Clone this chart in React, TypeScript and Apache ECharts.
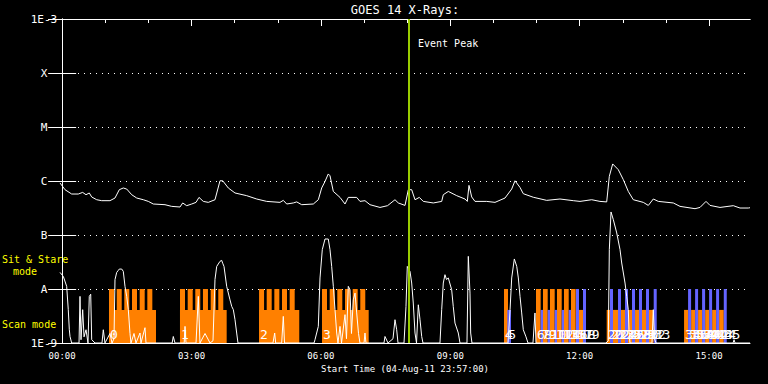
import React, { useEffect, useRef } from "react";
import * as echarts from "echarts";

const TITLE = "GOES 14 X-Rays:";
const X_NAME = "Start Time (04-Aug-11 23:57:00)";
const EVENT_LABEL = "Event Peak";
const T_MIN = -0.05;
const T_MAX = 15.95;
const HOUR_LABELS = [0, 3, 6, 9, 12, 15];
const HOUR_TICKS = [0, 1, 2, 3, 4, 5, 6, 7, 8, 9, 10, 11, 12, 13, 14, 15];
const FLUX_MIN = 1e-9;
const FLUX_MAX = 1e-3;
const CLASS_LABELS: Record<string, string> = {
  "-3": "1E-3", "-4": "X", "-5": "M", "-6": "C", "-7": "B", "-8": "A", "-9": "1E-9",
};
const EVENT_PEAK = 8.03;

// GOES 1-8 A flux: [hours since 00:00 UT, W/m^2]
const goesFlux: [number, number][] = [
  [-0.05, 9.2e-7], [0.066, 6.9e-7], [0.221, 5.74e-7], [0.374, 5.74e-7], [0.476, 6.15e-7],
  [0.553, 5.57e-7], [0.629, 6.0e-7], [0.685, 5.06e-7], [0.801, 4.5e-7], [0.917, 4.32e-7],
  [1.109, 4.32e-7], [1.225, 4.84e-7], [1.325, 6.9e-7], [1.418, 7.42e-7], [1.497, 7.1e-7],
  [1.613, 5.57e-7], [1.729, 4.84e-7], [1.882, 4.5e-7], [1.998, 4.19e-7], [2.113, 3.75e-7],
  [2.385, 3.64e-7], [2.54, 3.39e-7], [2.733, 3.3e-7], [2.795, 3.92e-7], [2.888, 3.49e-7],
  [3.004, 3.75e-7], [3.104, 4.02e-7], [3.173, 4.97e-7], [3.273, 4.19e-7], [3.389, 4.02e-7],
  [3.544, 4.5e-7], [3.66, 1.01e-6], [3.723, 1.01e-6], [3.853, 7.42e-7], [4.008, 6.0e-7],
  [4.279, 5.35e-7], [4.511, 4.64e-7], [4.743, 4.19e-7], [5.051, 4.02e-7], [5.128, 4.38e-7],
  [5.207, 3.75e-7], [5.36, 3.92e-7], [5.439, 4.1e-7], [5.555, 3.64e-7], [5.824, 3.75e-7],
  [5.94, 4.5e-7], [6.018, 7.42e-7], [6.095, 9.8e-7], [6.171, 1.35e-6], [6.211, 1.25e-6],
  [6.288, 6.41e-7], [6.443, 4.97e-7], [6.559, 3.75e-7], [6.635, 4.97e-7], [6.83, 4.97e-7],
  [6.906, 4.19e-7], [7.022, 4.32e-7], [7.138, 3.64e-7], [7.37, 3.24e-7], [7.545, 3.49e-7],
  [7.718, 4.5e-7], [7.795, 3.92e-7], [7.95, 3.53e-7], [8.027, 6.9e-7], [8.105, 6.9e-7],
  [8.182, 4.5e-7], [8.282, 4.97e-7], [8.374, 4.19e-7], [8.606, 3.92e-7], [8.801, 4.19e-7],
  [8.838, 5.57e-7], [8.954, 6.41e-7], [9.149, 5.35e-7], [9.341, 4.64e-7], [9.395, 4.19e-7],
  [9.434, 8.3e-7], [9.497, 5.06e-7], [9.573, 4.19e-7], [9.845, 4.19e-7], [10.037, 4.02e-7],
  [10.269, 4.84e-7], [10.424, 7.1e-7], [10.501, 1.01e-6], [10.617, 7.6e-7], [10.693, 5.82e-7],
  [10.925, 5.0e-7], [11.236, 4.38e-7], [11.544, 4.64e-7], [11.853, 4.32e-7], [12.008, 4.19e-7],
  [12.279, 4.5e-7], [12.471, 4.19e-7], [12.627, 4.1e-7], [12.688, 1.22e-6], [12.766, 2.07e-6],
  [12.896, 1.62e-6], [13.012, 1.06e-6], [13.128, 6.41e-7], [13.244, 4.5e-7], [13.476, 4.02e-7],
  [13.592, 3.53e-7], [13.708, 4.64e-7], [13.824, 4.19e-7], [14.172, 3.92e-7], [14.327, 3.39e-7],
  [14.675, 3.07e-7], [14.791, 3.24e-7], [14.93, 4.19e-7], [15.023, 3.53e-7], [15.255, 3.24e-7],
  [15.563, 3.49e-7], [15.718, 3.16e-7], [15.91, 3.16e-7], [15.95, 3.2e-7],
];

// Secondary light curve (plotted on the same log axis, floor at 1E-9)
const lowerCurve: [number, number][] = [
  [-0.05, 2.03e-8], [0.027, 1.71e-8], [0.105, 1.12e-8], [0.142, 4.14e-9], [0.166, 1.76e-9],
  [0.182, 1.32e-9], [0.221, 1e-9], [0.391, 1e-9], [0.414, 7.3e-9], [0.437, 1.15e-9],
  [0.476, 4.14e-9], [0.507, 1.3e-9], [0.553, 1.76e-9], [0.599, 1e-9], [0.629, 7.3e-9],
  [0.662, 8e-9], [0.685, 1.15e-9], [0.762, 1e-9], [0.924, 1e-9], [0.954, 1.76e-9],
  [0.993, 1e-9], [1.109, 1.5e-9], [1.156, 1e-9], [1.202, 1.2e-9], [1.225, 1.49e-8],
  [1.265, 2.03e-8], [1.302, 2.21e-8], [1.325, 2.34e-8], [1.381, 2.34e-8], [1.418, 2.12e-8],
  [1.457, 1.12e-8], [1.497, 7.3e-9], [1.534, 4.14e-9], [1.573, 1.5e-9], [1.596, 1e-9],
  [1.666, 1.5e-9], [1.712, 1e-9], [1.805, 1.53e-9], [1.828, 1e-9], [1.921, 1.92e-9],
  [1.944, 1e-9], [2.55, 1e-9], [2.577, 1.32e-9], [2.617, 1e-9], [2.83, 1e-9],
  [2.849, 2.03e-9], [2.872, 1e-9], [3.104, 1e-9], [3.157, 7.3e-9], [3.196, 1e-9],
  [3.313, 1.5e-9], [3.429, 1e-9], [3.498, 1.1e-9], [3.544, 1.5e-8], [3.584, 2.62e-8],
  [3.66, 3.25e-8], [3.699, 3.39e-8], [3.723, 3.0e-8], [3.753, 2.62e-8], [3.815, 1.12e-8],
  [3.892, 6.3e-9], [3.932, 4.76e-9], [3.969, 4.14e-9], [4.008, 2.7e-9], [4.047, 1.53e-9],
  [4.077, 1e-9], [4.889, 1e-9], [4.928, 1.53e-9], [4.951, 1e-9], [5.09, 1e-9],
  [5.128, 3.11e-9], [5.156, 1e-9], [5.84, 1e-9], [5.863, 1.15e-9], [5.94, 2.03e-9],
  [5.979, 1.6e-8], [6.032, 5.35e-8], [6.095, 8.43e-8], [6.171, 8.43e-8], [6.211, 5.35e-8],
  [6.25, 2.6e-8], [6.288, 1.12e-8], [6.327, 4.14e-9], [6.366, 1.53e-9], [6.396, 1e-9],
  [6.443, 2.03e-9], [6.478, 1e-9], [6.559, 3.35e-9], [6.593, 1.2e-9], [6.635, 1.12e-8],
  [6.675, 9.7e-9], [6.709, 1.5e-9], [6.751, 6.3e-9], [6.791, 8.4e-9], [6.83, 3.6e-9],
  [6.872, 1.5e-9], [6.906, 1e-9], [7.0, 1e-9], [7.022, 1.53e-9], [7.045, 1e-9],
  [7.463, 1e-9], [7.486, 1.32e-9], [7.556, 1e-9], [7.672, 1.2e-9], [7.718, 2.7e-9],
  [7.757, 1.76e-9], [7.788, 1e-9], [7.927, 1e-9], [7.973, 4.76e-9], [8.003, 2.62e-8],
  [8.066, 2.12e-8], [8.105, 1.29e-8], [8.142, 5.5e-9], [8.182, 1.53e-9], [8.217, 1e-9],
  [8.259, 5.1e-9], [8.298, 2.7e-9], [8.337, 1.32e-9], [8.367, 1e-9], [8.761, 1e-9],
  [8.801, 4.14e-9], [8.838, 1.29e-8], [8.877, 1.84e-8], [8.912, 1.5e-8], [8.954, 1.6e-8],
  [9.032, 9.7e-9], [9.069, 4.76e-9], [9.109, 2.34e-9], [9.186, 1.53e-9], [9.225, 1e-9],
  [9.387, 1e-9], [9.418, 4.02e-8], [9.457, 8.4e-9], [9.473, 1.53e-9], [9.503, 1e-9],
  [10.339, 1e-9], [10.386, 4.14e-9], [10.424, 1.6e-8], [10.485, 3.6e-8], [10.541, 2.62e-8],
  [10.578, 1.6e-8], [10.617, 7.3e-9], [10.656, 3.6e-9], [10.693, 1.76e-9], [10.756, 1.3e-9],
  [10.802, 1e-9], [10.918, 1e-9], [10.964, 3.6e-9], [10.987, 1e-9], [12.611, 1e-9],
  [12.664, 1.1e-9], [12.688, 5.35e-8], [12.727, 2.67e-7], [12.781, 1.92e-7], [12.86, 1.09e-7],
  [12.936, 5.35e-8], [12.975, 3.03e-8], [13.052, 1.29e-8], [13.091, 7.3e-9], [13.128, 4.14e-9],
  [13.144, 1.76e-9], [13.167, 1e-9], [13.677, 1e-9], [13.708, 4.14e-9], [13.736, 1.2e-9],
  [13.77, 1e-9], [15.557, 1e-9], [15.58, 1.15e-9], [15.603, 1e-9], [15.95, 1e-9],
];

// Observation mode heights on the flux axis
const MODE_LEVEL: Record<string, number> = { stare: 1e-8, scan: 4.1e-9 };

// Observations: [start hour, end hour, mode, program]
const observations: [number, number, string, string][] = [
  [1.086, 2.176, "scan", "A"],
  [1.086, 1.202, "stare", "A"], [1.265, 1.381, "stare", "A"], [1.441, 1.557, "stare", "A"],
  [1.62, 1.736, "stare", "A"], [1.798, 1.914, "stare", "A"], [1.975, 2.091, "stare", "A"],
  [2.732, 3.815, "scan", "A"],
  [2.732, 2.848, "stare", "A"], [2.911, 3.027, "stare", "A"], [3.087, 3.203, "stare", "A"],
  [3.265, 3.381, "stare", "A"], [3.444, 3.56, "stare", "A"], [3.62, 3.736, "stare", "A"],
  [4.566, 5.498, "scan", "A"],
  [4.566, 4.682, "stare", "A"], [4.743, 4.859, "stare", "A"], [4.92, 5.036, "stare", "A"],
  [5.098, 5.214, "stare", "A"], [5.276, 5.392, "stare", "A"],
  [6.025, 7.108, "scan", "A"],
  [6.025, 6.141, "stare", "A"], [6.204, 6.32, "stare", "A"], [6.38, 6.496, "stare", "A"],
  [6.559, 6.675, "stare", "A"], [6.737, 6.853, "stare", "A"], [6.913, 7.029, "stare", "A"],
  [10.245, 10.338, "stare", "A"], [10.322, 10.408, "scan", "B"],
  [10.987, 11.096, "stare", "A"], [11.096, 11.15, "scan", "B"], [11.15, 11.259, "stare", "A"],
  [11.259, 11.312, "scan", "B"], [11.312, 11.421, "stare", "A"], [11.421, 11.475, "scan", "B"],
  [11.475, 11.584, "stare", "A"], [11.584, 11.637, "scan", "B"], [11.637, 11.746, "stare", "A"],
  [11.746, 11.799, "scan", "B"], [11.799, 11.908, "stare", "A"], [11.915, 11.985, "stare", "B"],
  [11.985, 12.078, "scan", "A"], [12.078, 12.147, "stare", "B"],
  [12.627, 12.704, "scan", "A"], [12.704, 12.773, "stare", "B"], [12.773, 12.889, "scan", "A"],
  [12.889, 12.959, "stare", "B"], [12.959, 13.052, "scan", "A"], [13.052, 13.121, "stare", "B"],
  [13.121, 13.214, "scan", "A"], [13.214, 13.284, "stare", "B"], [13.284, 13.376, "scan", "A"],
  [13.376, 13.446, "stare", "B"], [13.446, 13.539, "scan", "A"], [13.539, 13.608, "stare", "B"],
  [13.608, 13.717, "scan", "A"], [13.717, 13.787, "stare", "B"],
  [14.421, 14.514, "scan", "A"], [14.514, 14.584, "stare", "B"], [14.584, 14.677, "scan", "A"],
  [14.677, 14.746, "stare", "B"], [14.746, 14.839, "scan", "A"], [14.839, 14.909, "stare", "B"],
  [14.909, 15.002, "scan", "A"], [15.002, 15.071, "stare", "B"], [15.071, 15.164, "scan", "A"],
  [15.164, 15.233, "stare", "B"], [15.233, 15.342, "scan", "A"], [15.342, 15.411, "stare", "B"],
];

// Raster numbers: [start hour, label]
const rasterLabels: [number, string][] = [
  [1.086, "0"], [2.732, "1"], [4.566, "2"], [6.025, "3"],
  [10.245, "4"], [10.322, "5"],
  [10.987, "6"], [11.096, "7"], [11.15, "8"], [11.259, "9"], [11.312, "10"], [11.421, "11"],
  [11.475, "12"], [11.584, "13"], [11.637, "14"], [11.746, "15"], [11.799, "16"], [11.915, "17"],
  [11.985, "18"], [12.078, "19"],
  [12.627, "20"], [12.704, "21"], [12.773, "22"], [12.889, "23"], [12.959, "24"], [13.052, "25"],
  [13.121, "26"], [13.214, "27"], [13.284, "28"], [13.376, "29"], [13.446, "30"], [13.539, "31"],
  [13.608, "32"], [13.717, "33"],
  [14.421, "34"], [14.514, "35"], [14.584, "36"], [14.677, "37"], [14.746, "38"], [14.839, "39"],
  [14.909, "40"], [15.002, "41"], [15.071, "42"], [15.164, "43"], [15.233, "44"], [15.342, "45"],
];

const MODE_TEXTS = ["Sit & Stare", "mode", "Scan mode"];

const FONT = '"DejaVu Sans Mono", monospace';
const PROGRAM_COLORS: Record<string, string> = { A: "#ff8000", B: "#6464ff" };

function obsSeries(program: string) {
  const data = observations
    .filter((o) => o[3] === program)
    .map((o) => [o[0], o[1], MODE_LEVEL[o[2]]]);
  const color = PROGRAM_COLORS[program];
  return {
    type: "custom",
    xAxisIndex: 0,
    yAxisIndex: 0,
    clip: true,
    silent: true,
    encode: { x: [0, 1], y: 2 },
    data,
    renderItem: (_params: any, api: any) => {
      const p0 = api.coord([api.value(0), FLUX_MIN]);
      const p1 = api.coord([api.value(1), api.value(2)]);
      return {
        type: "rect",
        shape: { x: p0[0], y: p1[1], width: p1[0] - p0[0], height: p0[1] - p1[1] },
        style: { fill: color },
      };
    },
  };
}

export default function App() {
  const ref = useRef<HTMLDivElement>(null);
  useEffect(() => {
    if (!ref.current) return;
    const chart = echarts.init(ref.current, undefined, { renderer: "svg" });
    const white = "#ffffff";
    const option: any = {
      animation: false,
      backgroundColor: "#000000",
      grid: { left: 60, right: 18, top: 19, bottom: 41, containLabel: false },
      xAxis: [
        {
          type: "value", position: "bottom", min: T_MIN, max: T_MAX,
          axisLine: { show: true, lineStyle: { color: white, width: 1 } },
          axisTick: { show: false },
          splitLine: { show: false },
          axisLabel: {
            customValues: HOUR_LABELS,
            formatter: (v: number) => String(Math.round(v)).padStart(2, "0") + ":00",
            color: white, fontFamily: FONT, fontSize: 9, margin: 8,
          },
          name: X_NAME, nameLocation: "middle", nameGap: 19,
          nameTextStyle: { color: white, fontFamily: FONT, fontSize: 9 },
        },
        {
          type: "value", position: "top", min: T_MIN, max: T_MAX,
          axisLine: { show: true, lineStyle: { color: white, width: 1 } },
          axisTick: { show: true, inside: true, length: 4, customValues: HOUR_TICKS, lineStyle: { color: white, width: 1 } },
          axisLabel: { show: false },
          splitLine: { show: false },
        },
        {
          type: "value", position: "top", min: T_MIN, max: T_MAX,
          axisLine: { show: true, lineStyle: { color: white, width: 1 } },
          axisTick: { show: true, inside: true, length: 7, customValues: HOUR_LABELS, lineStyle: { color: white, width: 1 } },
          axisLabel: { show: false },
          splitLine: { show: false },
        },
      ],
      yAxis: [
        {
          type: "log", logBase: 10, min: FLUX_MIN, max: FLUX_MAX, splitNumber: 6, position: "left",
          axisLine: { show: true, lineStyle: { color: white, width: 1 } },
          axisTick: { show: true, inside: true, length: 14, lineStyle: { color: white, width: 1 } },
          axisLabel: {
            formatter: (v: number) => CLASS_LABELS[String(Math.round(Math.log10(v)))] || "",
            color: white, fontFamily: FONT, fontSize: 11, align: "center", margin: 16,
          },
          splitLine: { show: true, lineStyle: { color: white, width: 1, type: [1, 5] } },
        },
        {
          type: "log", logBase: 10, min: FLUX_MIN, max: FLUX_MAX, splitNumber: 6, position: "right",
          axisLine: { show: true, lineStyle: { color: white, width: 1 } },
          axisTick: { show: true, inside: true, length: 14, lineStyle: { color: white, width: 1 } },
          axisLabel: { show: false },
          splitLine: { show: false },
        },
      ],
      series: [
        obsSeries("A"),
        obsSeries("B"),
        {
          type: "line", xAxisIndex: 0, yAxisIndex: 0, data: lowerCurve,
          showSymbol: false, silent: true, clip: true,
          lineStyle: { color: white, width: 1 },
        },
        {
          type: "line", xAxisIndex: 0, yAxisIndex: 0, data: goesFlux,
          showSymbol: false, silent: true, clip: true,
          lineStyle: { color: white, width: 1 },
          markLine: {
            silent: true, symbol: ["none", "none"],
            label: { show: false },
            lineStyle: { color: "#99cc00", width: 2, type: "solid" },
            data: [{ xAxis: EVENT_PEAK }],
          },
        },
        {
          type: "custom", xAxisIndex: 0, yAxisIndex: 0, silent: true, clip: false,
          encode: { x: 0, y: 1 },
          data: rasterLabels.map((r) => [r[0], FLUX_MIN]),
          renderItem: (params: any, api: any) => {
            const p = api.coord([api.value(0), api.value(1)]);
            return {
              type: "text",
              x: p[0] + 1,
              y: p[1] - 2,
              style: {
                text: rasterLabels[params.dataIndex][1],
                fill: white,
                font: `13px ${FONT}`,
                align: "left",
                verticalAlign: "bottom",
              },
            };
          },
        },
      ],
      graphic: [
        { type: "text", x: 405, y: 10, style: { text: TITLE, fill: white, font: `12px ${FONT}`, align: "center", verticalAlign: "middle" } },
        { type: "text", x: 418, y: 43, style: { text: EVENT_LABEL, fill: white, font: `10px ${FONT}`, align: "left", verticalAlign: "middle" } },
        { type: "text", x: 2, y: 259, style: { text: MODE_TEXTS[0], fill: "#ffff00", font: `10px ${FONT}`, align: "left", verticalAlign: "middle" } },
        { type: "text", x: 13, y: 271, style: { text: MODE_TEXTS[1], fill: "#ffff00", font: `10px ${FONT}`, align: "left", verticalAlign: "middle" } },
        { type: "text", x: 2, y: 324, style: { text: MODE_TEXTS[2], fill: "#ffff00", font: `10px ${FONT}`, align: "left", verticalAlign: "middle" } },
      ],
    };
    chart.setOption(option);
    return () => chart.dispose();
  }, []);
  return (
    <div
      ref={ref}
      style={{ position: "fixed", left: 0, top: 0, width: 768, height: 384, background: "#000" }}
    />
  );
}
